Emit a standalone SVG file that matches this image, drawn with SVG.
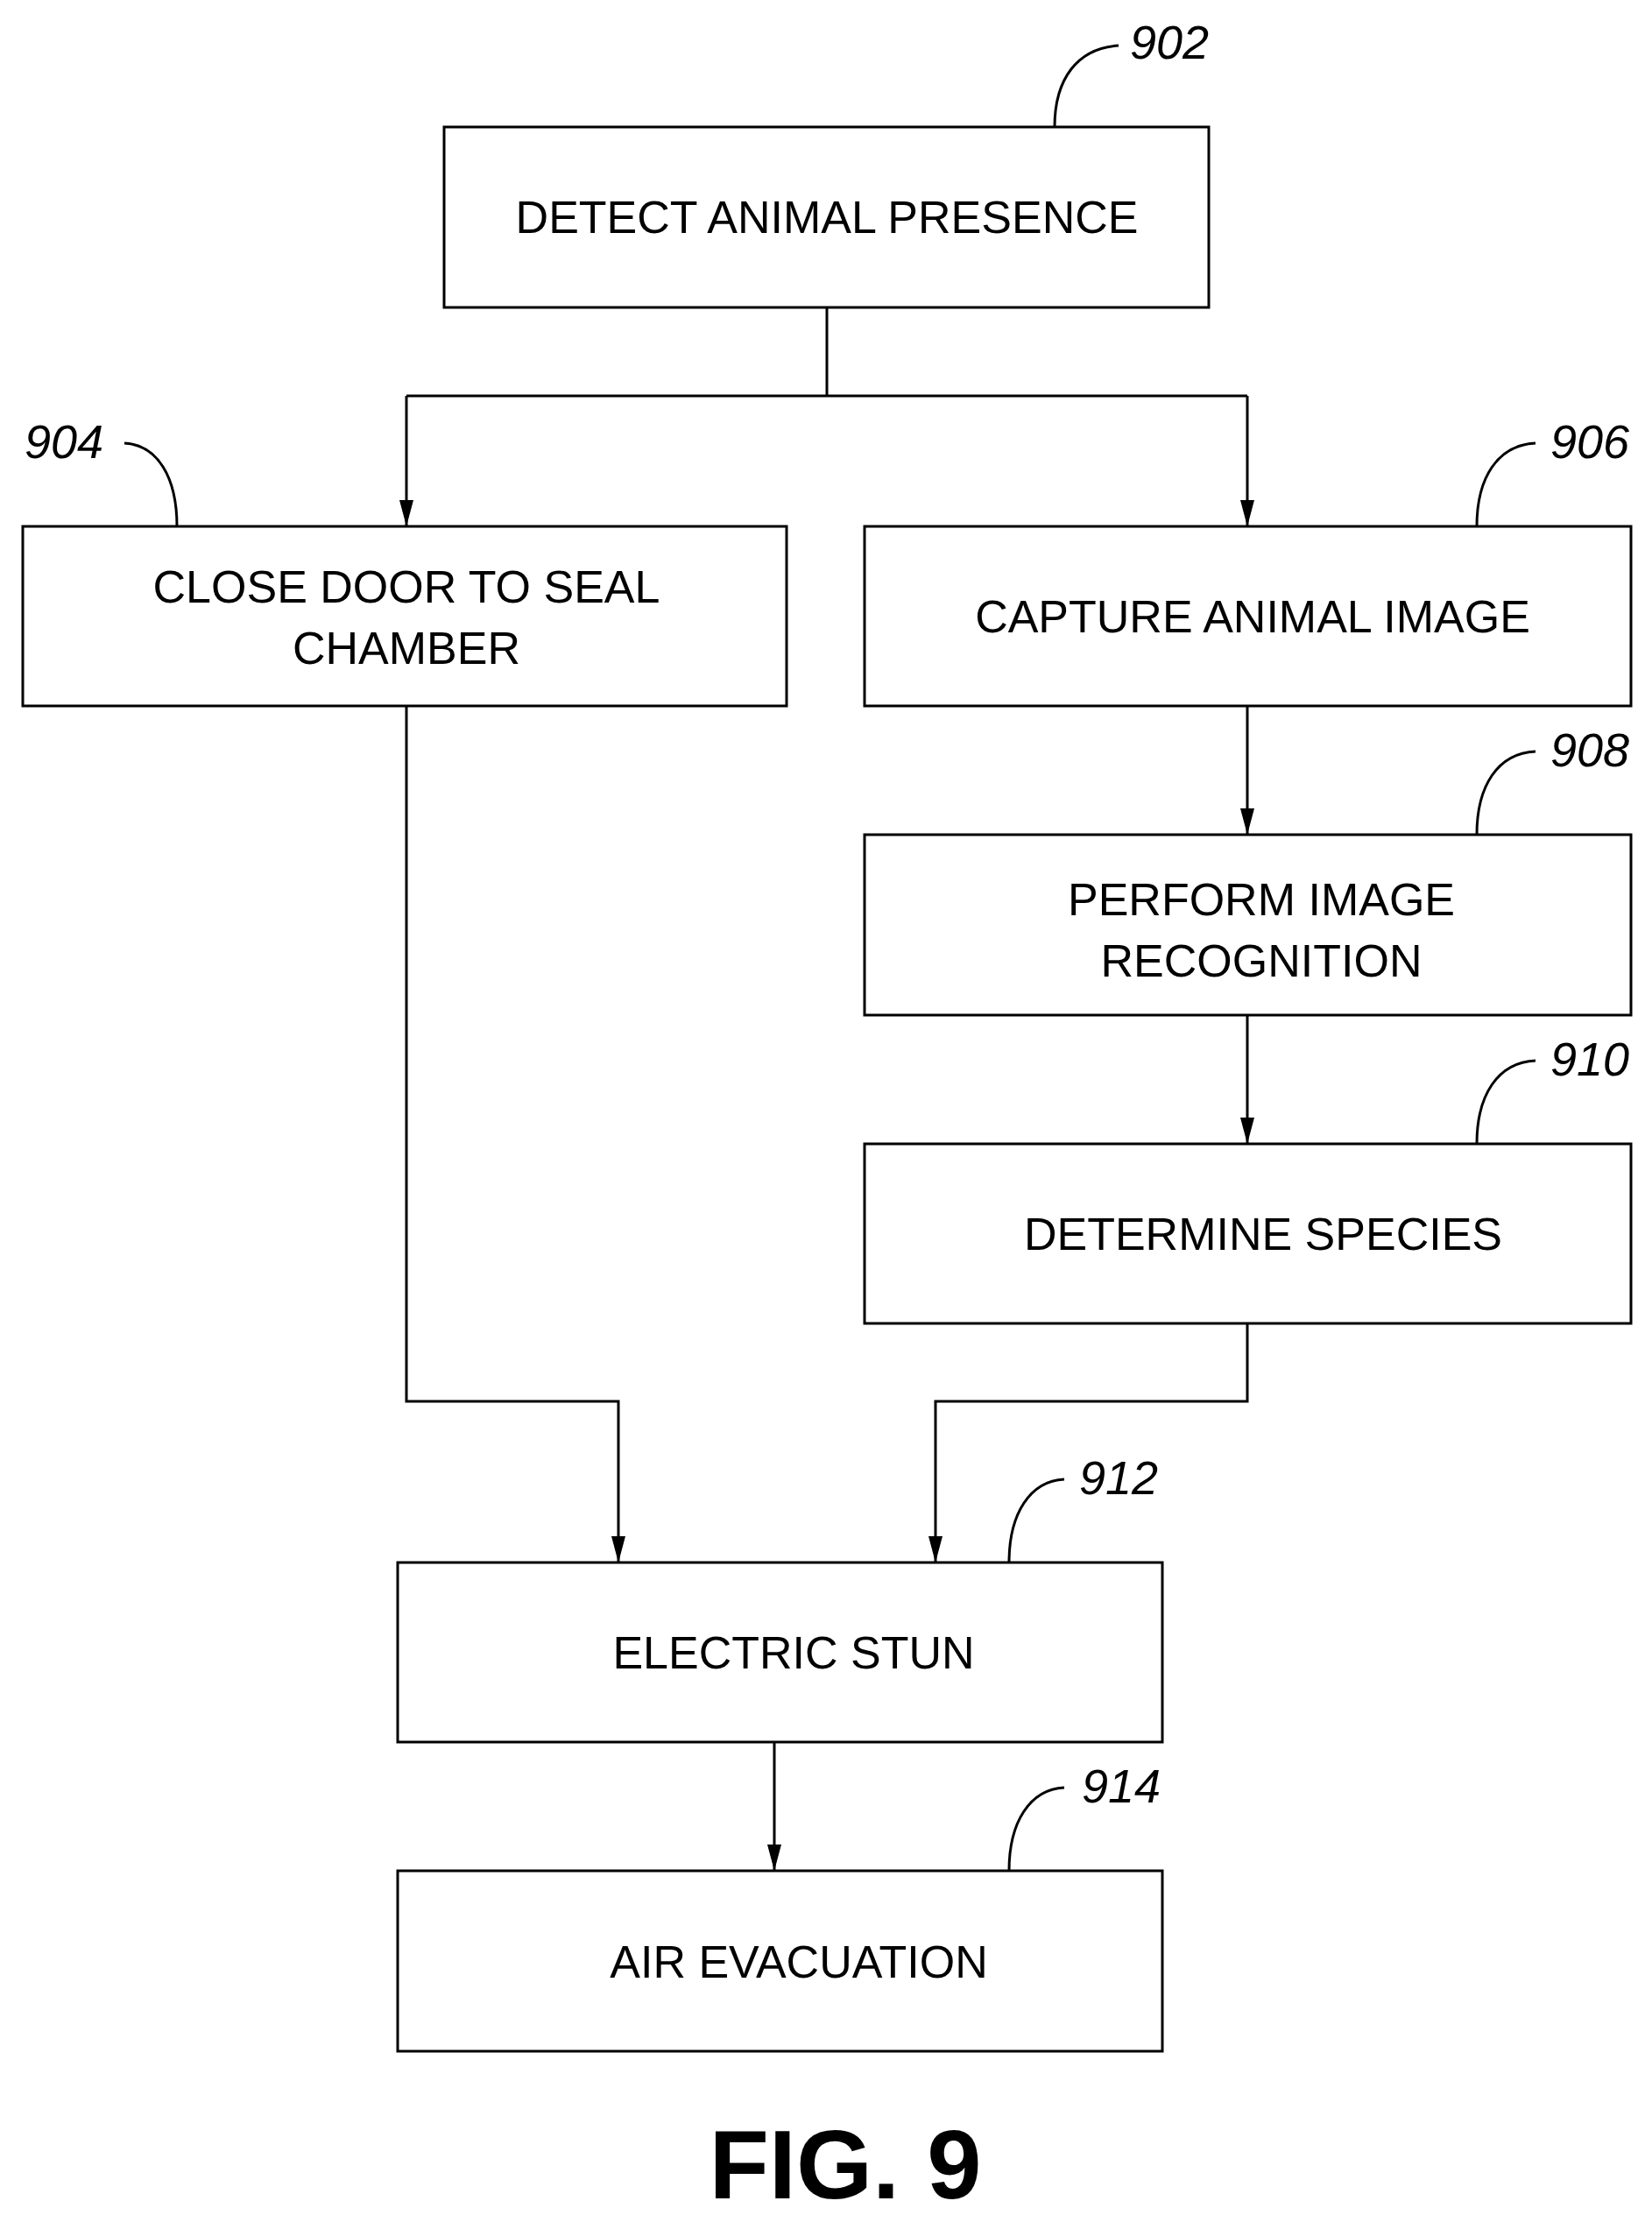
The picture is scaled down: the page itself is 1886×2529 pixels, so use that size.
<svg xmlns="http://www.w3.org/2000/svg" width="1886" height="2529" viewBox="0 0 1886 2529">
<style>
.b{fill:#fff;stroke:#000;stroke-width:3}
.t{font-family:"Liberation Sans",Arial,sans-serif;font-size:52px;text-anchor:middle}
.n{font-family:"Liberation Sans",Arial,sans-serif;font-size:54px;font-style:italic;text-anchor:middle}
.c{fill:none;stroke:#000;stroke-width:3}
</style>
<defs><marker id="a" markerWidth="14" markerHeight="30" refX="7" refY="30" orient="auto" markerUnits="userSpaceOnUse" viewBox="0 0 14 30"><path d="M0,0 L14,0 L7,30 Z" transform="rotate(-90 7 15) translate(-8 8)" fill="#000"/></marker>
<marker id="h" markerWidth="30" markerHeight="16" refX="30" refY="8" orient="auto" markerUnits="userSpaceOnUse"><path d="M0,0 L30,8 L0,16 Z" fill="#000"/></marker></defs>
<rect width="1886" height="2529" fill="#fff"/>
<g id="connectors" class="c">
<path d="M944,351 V452 M464,452 H1424" />
<path d="M464,452 V601" marker-end="url(#h)"/>
<path d="M1424,452 V601" marker-end="url(#h)"/>
<path d="M1424,806 V953" marker-end="url(#h)"/>
<path d="M1424,1159 V1306" marker-end="url(#h)"/>
<path d="M464,806 V1600 H706 V1784" marker-end="url(#h)"/>
<path d="M1424,1511 V1600 H1068 V1784" marker-end="url(#h)"/>
<path d="M884,1989 V2136" marker-end="url(#h)"/>
<path d="M1204,145 C1204,90 1230,55 1277,52"/>
<path d="M202,601 C202,545 180,508 142,506"/>
<path d="M1686,601 C1686,545 1710,508 1753,506"/>
<path d="M1686,953 C1686,897 1710,860 1753,858"/>
<path d="M1686,1306 C1686,1250 1710,1213 1753,1211"/>
<path d="M1152,1784 C1152,1728 1176,1691 1215,1689"/>
<path d="M1152,2136 C1152,2080 1176,2043 1215,2041"/>
</g>
<g id="n902"><rect class="b" x="507" y="145" width="873" height="206"/><text class="t" x="944" y="266">DETECT ANIMAL PRESENCE</text><text class="n" x="1335" y="67">902</text></g>
<g id="n904"><rect class="b" x="26" y="601" width="872" height="205"/><text class="t" x="464" y="688">CLOSE DOOR TO SEAL</text><text class="t" x="464" y="758">CHAMBER</text><text class="n" x="73" y="523">904</text></g>
<g id="n906"><rect class="b" x="987" y="601" width="875" height="205"/><text class="t" x="1430" y="722">CAPTURE ANIMAL IMAGE</text><text class="n" x="1815" y="523">906</text></g>
<g id="n908"><rect class="b" x="987" y="953" width="875" height="206"/><text class="t" x="1440" y="1045">PERFORM IMAGE</text><text class="t" x="1440" y="1115">RECOGNITION</text><text class="n" x="1815" y="875">908</text></g>
<g id="n910"><rect class="b" x="987" y="1306" width="875" height="205"/><text class="t" x="1442" y="1427">DETERMINE SPECIES</text><text class="n" x="1815" y="1228">910</text></g>
<g id="n912"><rect class="b" x="454" y="1784" width="873" height="205"/><text class="t" x="906" y="1905">ELECTRIC STUN</text><text class="n" x="1277" y="1706">912</text></g>
<g id="n914"><rect class="b" x="454" y="2136" width="873" height="206"/><text class="t" x="912" y="2258">AIR EVACUATION</text><text class="n" x="1280" y="2058">914</text></g>
<text x="965" y="2510" font-family="Liberation Sans,Arial,sans-serif" font-size="112" font-weight="bold" text-anchor="middle">FIG. 9</text>
</svg>
